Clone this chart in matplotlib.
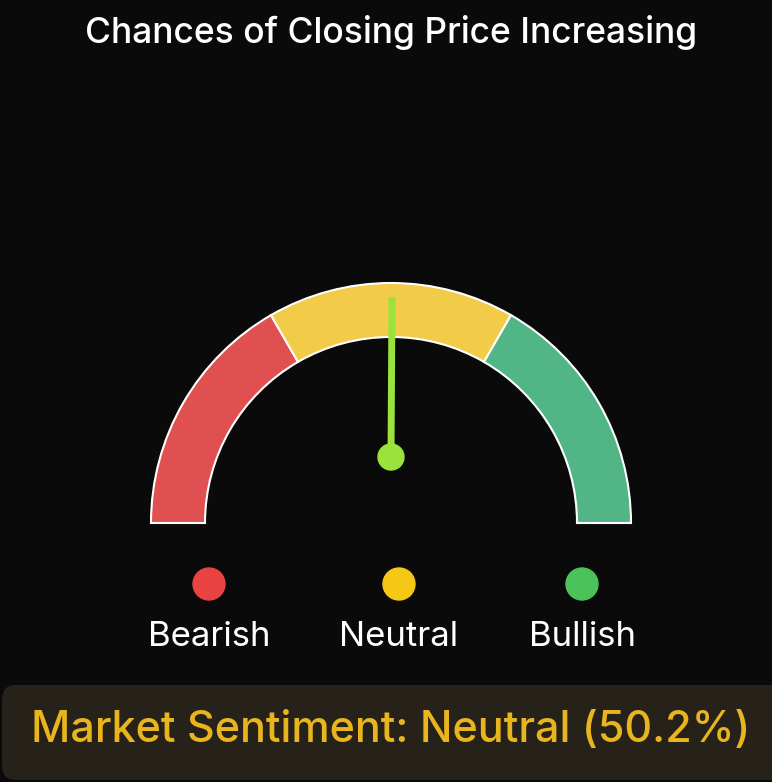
import matplotlib
matplotlib.use("Agg")
import matplotlib.pyplot as plt
from matplotlib.patches import Wedge, Circle, FancyBboxPatch
import numpy as np

title = "Chances of Closing Price Increasing"
categories = ["Bearish", "Neutral", "Bullish"]
bounds = [0, 33.33, 66.67, 100]
seg_colors = ["#E05050", "#F2CB48", "#52B585"]
dot_colors = ["#E84242", "#F5C816", "#4CC35A"]
value = 50.2
sentiment = "Neutral"

W, H = 772, 782
fig = plt.figure(figsize=(W/100, H/100), dpi=100, facecolor="#0a0a0a")
ax = fig.add_axes([0, 0, 1, 1])
ax.set_xlim(0, W); ax.set_ylim(0, H); ax.axis("off")
ax.set_facecolor("#0a0a0a")
font = "Inter"

ax.text(391, H-33, title, color="white", fontsize=25.5, fontweight="medium",
        ha="center", va="center", family=font)

cx, cy, R, w = 391, H-523, 240, 54
for i in range(3):
    a1 = 180 - bounds[i+1]*1.8
    a2 = 180 - bounds[i]*1.8
    ax.add_patch(Wedge((cx, cy), R, a1, a2, width=w, facecolor=seg_colors[i],
                       edgecolor="white", linewidth=1.5))

ang = np.radians(180 - value*1.8)
px, py = 391, H-457
L = 160
ax.plot([px, px+L*np.cos(ang)], [py, py+L*np.sin(ang)], color="#9BE23C",
        linewidth=5, solid_capstyle="butt")
ax.add_patch(Circle((px, py), 13, color="#9BE23C"))

xs = [209, 399, 582]
for x, c, lab in zip(xs, dot_colors, categories):
    ax.add_patch(Circle((x, H-584), 16, color=c))
    ax.text(x, H-637, lab, color="white", fontsize=25, ha="center", va="center", family=font)

ax.add_patch(FancyBboxPatch((2, H-780), 800, 95, boxstyle="round,pad=0,rounding_size=14",
                            facecolor="#26221A", edgecolor="none"))
ax.text(391, H-731, f"Market Sentiment: {sentiment} ({value}%)", color="#E8B51E",
        fontsize=31, fontweight="medium", ha="center", va="center", family=font)

fig.savefig("out.png", dpi=100, facecolor=fig.get_facecolor())
